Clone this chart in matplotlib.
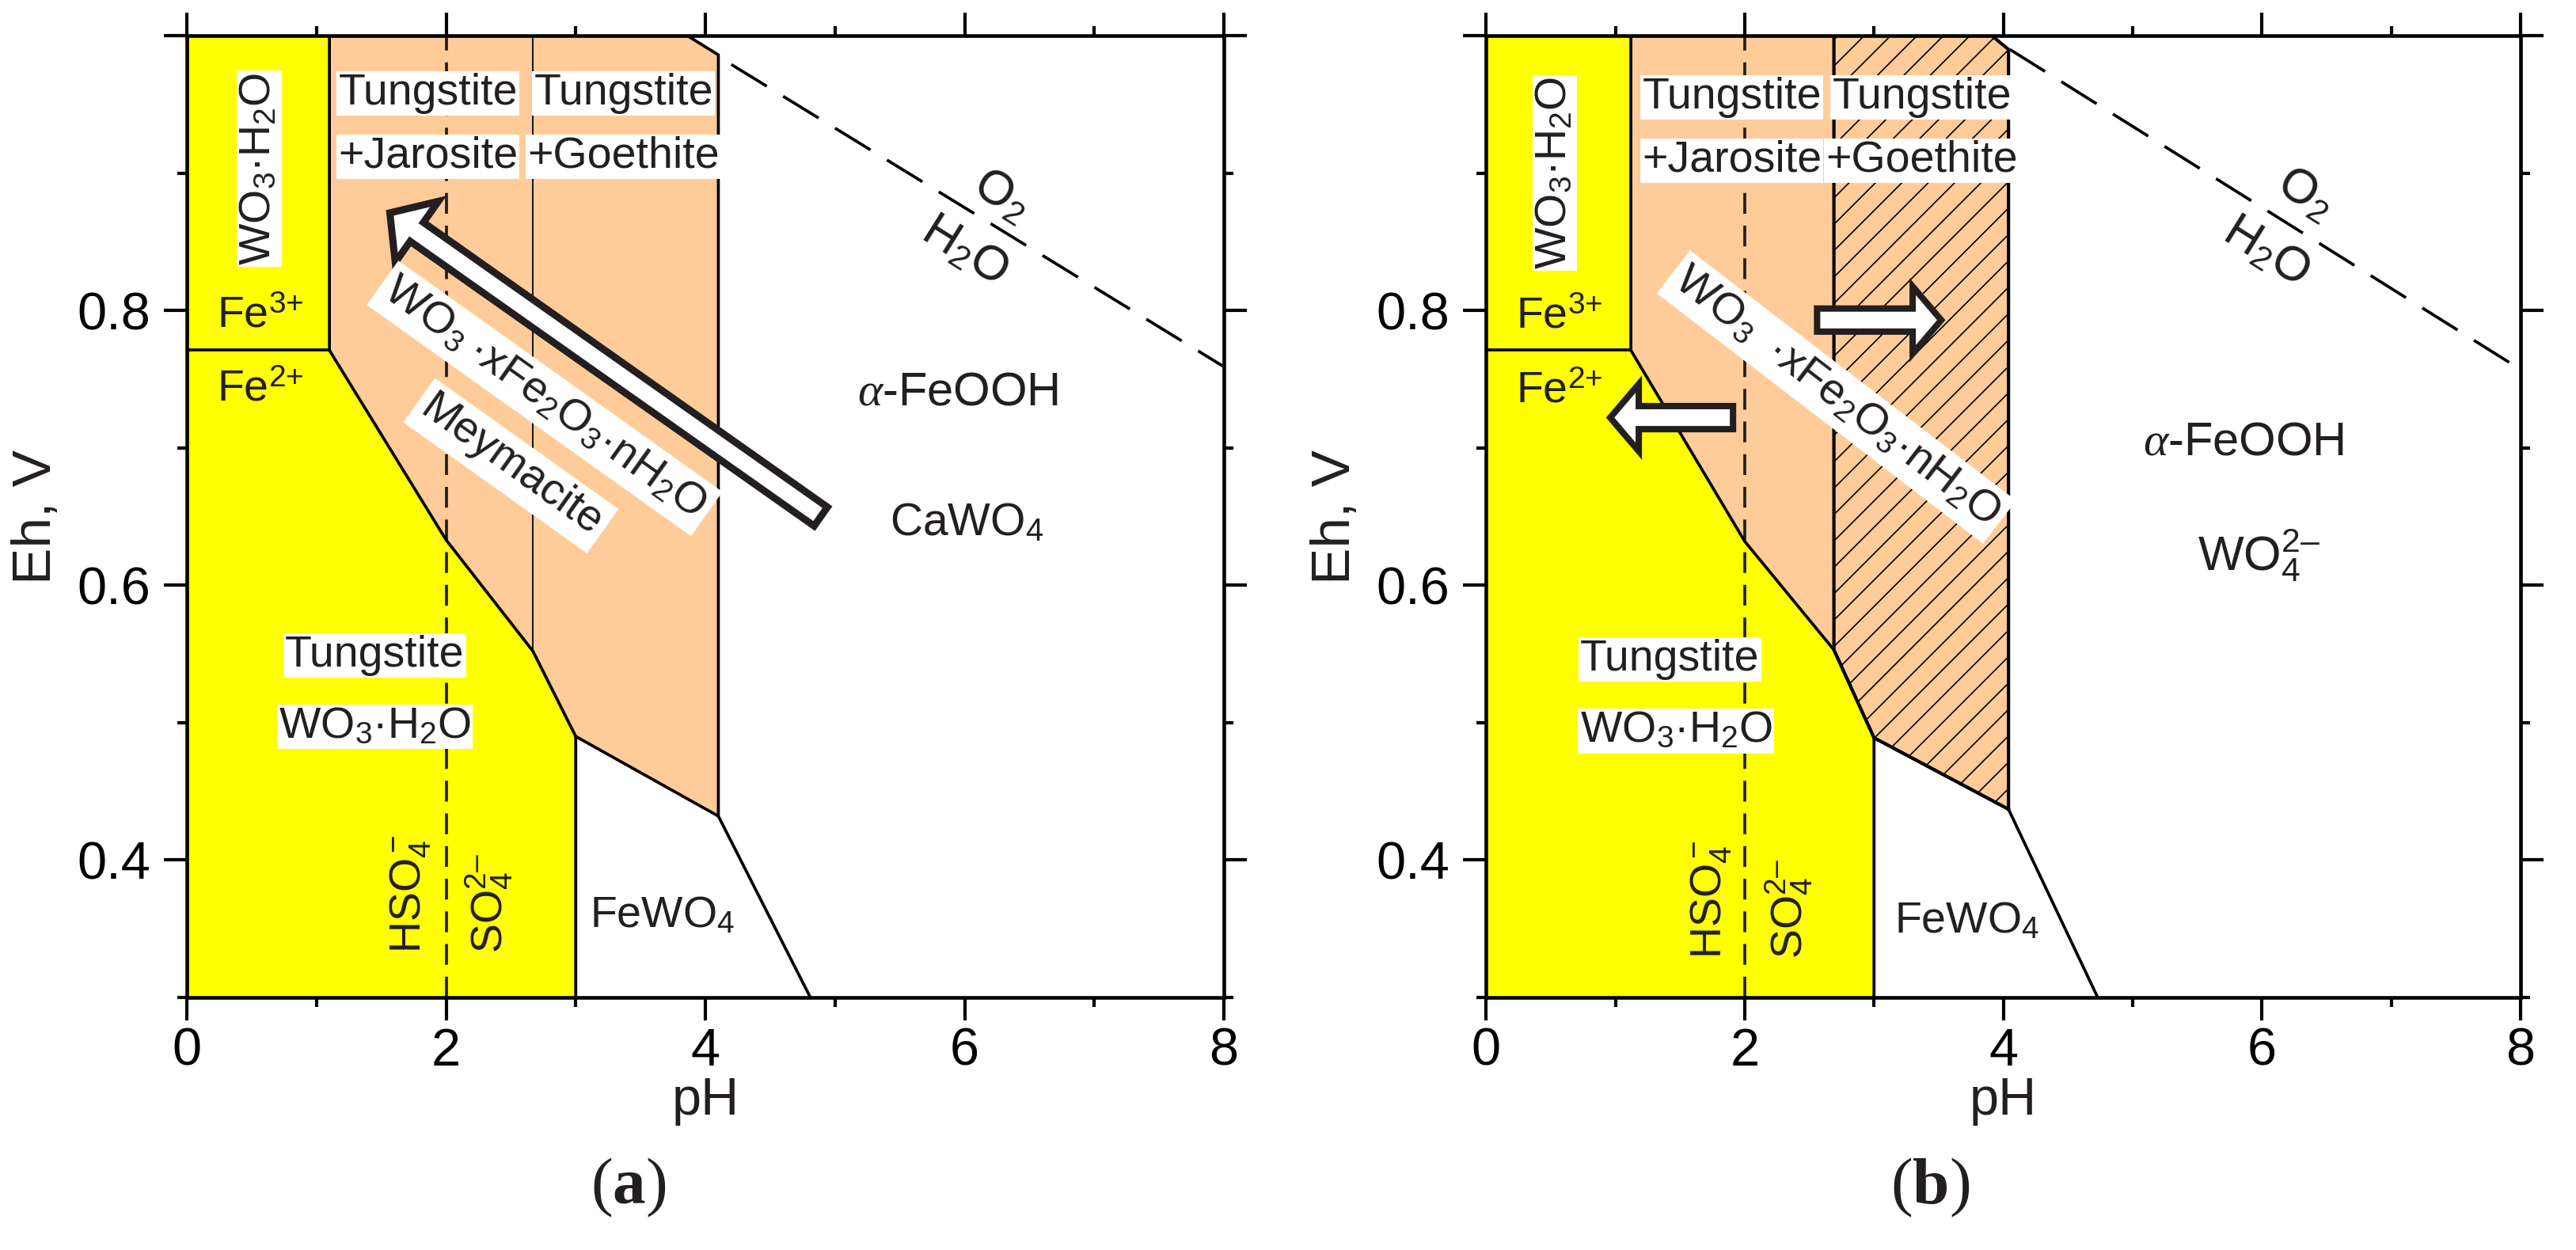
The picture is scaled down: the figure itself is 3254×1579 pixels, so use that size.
import matplotlib
matplotlib.use("Agg")
import matplotlib.pyplot as plt
from matplotlib.patches import Polygon, FancyArrowPatch

plt.rcParams['font.family'] = ['Liberation Sans', 'DejaVu Sans']
plt.rcParams['mathtext.fontset'] = 'custom'
plt.rcParams['mathtext.rm'] = 'Liberation Sans'
plt.rcParams['mathtext.it'] = 'Liberation Serif:italic'
plt.rcParams['mathtext.bf'] = 'Liberation Serif:bold'
plt.rcParams['hatch.linewidth'] = 1.2
plt.rcParams['hatch.color'] = 'black'

# axis ticks
x_major = [0, 2, 4, 6, 8]
x_minor = [1, 3, 5, 7]
y_major = [0.4, 0.6, 0.8, 1.0]
y_labels = ['0.4', '0.6', '0.8', '']
y_minor = [0.3, 0.5, 0.7, 0.9]

# panel (a) boundaries (pH, Eh)
yellow_a_ph = [0, 0, 1.1, 1.1, 2.0, 2.67, 3.0, 3.0]
yellow_a_eh = [0.3, 1.0, 1.0, 0.771, 0.633, 0.552, 0.49, 0.3]
orange_a_ph = [1.1, 3.86, 4.1, 4.1, 3.0, 2.67, 2.0, 1.1]
orange_a_eh = [1.0, 1.0, 0.986, 0.432, 0.49, 0.552, 0.633, 0.771]
fewo4_a_ph = [3.0, 4.1, 4.81]
fewo4_a_eh = [0.49, 0.432, 0.3]
inner_a_ph = [2.67, 2.67]
inner_a_eh = [1.0, 0.552]
water_a_ph = [4.2, 8.0]
water_a_eh = [0.979, 0.759]

# panel (b) boundaries
yellow_b_ph = [0, 0, 1.12, 1.12, 2.0, 2.69, 3.0, 3.0]
yellow_b_eh = [0.3, 1.0, 1.0, 0.771, 0.632, 0.553, 0.489, 0.3]
orange_b_ph = [1.12, 3.91, 4.04, 4.04, 3.0, 2.69, 2.0, 1.12]
orange_b_eh = [1.0, 1.0, 0.99, 0.437, 0.489, 0.553, 0.632, 0.771]
hatch_b_ph = [2.69, 3.91, 4.04, 4.04, 3.0, 2.69]
hatch_b_eh = [1.0, 1.0, 0.99, 0.437, 0.489, 0.553]
fewo4_b_ph = [3.0, 4.04, 4.73]
fewo4_b_eh = [0.489, 0.437, 0.3]
water_b_ph = [4.05, 8.0]
water_b_eh = [0.99, 0.757]

fe_line_eh = 0.771
sulfate_ph = 2.0

# arrows (tail pH, tail Eh, head pH, head Eh)
arrow_a = [(4.89, 0.650, 1.566, 0.871)]
arrows_b = [(2.56, 0.793, 3.52, 0.793), (1.91, 0.722, 0.96, 0.722)]

YEL = '#ffff00'
ORA = '#ffcc99'
TXT = '#231f20'
LW = 2.7

fig = plt.figure(figsize=(32.55, 15.79), dpi=100)
ax_a = fig.add_axes([0.0725, 0.202, 0.4025, 0.7695])
ax_b = fig.add_axes([0.5767, 0.202, 0.4015, 0.7695])


def setup_axes(ax):
    ax.set_xlim(0, 8)
    ax.set_ylim(0.3, 1.0)
    ax.set_xticks(x_major)
    ax.set_xticks(x_minor, minor=True)
    ax.set_yticks(y_major)
    ax.set_yticklabels(y_labels)
    ax.set_yticks(y_minor, minor=True)
    for s in ax.spines.values():
        s.set_linewidth(3.3)
    ax.tick_params(which='both', direction='out', top=True, right=True, width=3.0, colors='black')
    ax.tick_params(which='major', length=21)
    ax.tick_params(which='minor', length=8.5)
    ax.tick_params(axis='y', labelsize=48, pad=12)
    ax.tick_params(axis='x', labelsize=48, pad=6)
    ax.set_xlabel('pH', fontsize=48, labelpad=0, color=TXT)
    ax.set_ylabel('Eh, V', fontsize=50, labelpad=14, color=TXT)


def label(ax, x, y, s, size=40, box=True, pad=1.5, **kw):
    bb = dict(facecolor='white', edgecolor='none', pad=pad) if box else None
    kw.setdefault('ha', 'center')
    kw.setdefault('va', 'center')
    ax.text(x, y, s, fontsize=size, color=TXT, bbox=bb, zorder=6, **kw)


def block_arrow(ax, x0, y0, x1, y1, tw, hw, hl, lw):
    style = 'simple,tail_width=%g,head_width=%g,head_length=%g' % (tw, hw, hl)
    arr = FancyArrowPatch((x0, y0), (x1, y1), arrowstyle=style, mutation_scale=1,
                          shrinkA=0, shrinkB=0, facecolor='white', edgecolor=TXT,
                          linewidth=lw, joinstyle='miter', zorder=5)
    ax.add_patch(arr)


def common_lines(ax, yph, yeh, fph, feh, wph, weh):
    ax.plot([0, yph[2]], [fe_line_eh, fe_line_eh], color='black', lw=LW, zorder=3)
    ax.plot(yph[2:], yeh[2:], color='black', lw=LW, zorder=3, solid_joinstyle='miter')
    ax.plot(fph, feh, color='black', lw=LW, zorder=3)
    ax.plot([sulfate_ph, sulfate_ph], [0.3, 1.0], color=TXT, lw=2.7, ls=(0, (7, 4)), zorder=2)
    ax.plot(wph, weh, color='black', lw=2.7, ls=(0, (14, 6.5)), zorder=2)


# ---------- panel (a)
ax = ax_a
ax.add_patch(Polygon(list(zip(yellow_a_ph, yellow_a_eh)), closed=True, facecolor=YEL, edgecolor='none', zorder=1))
ax.add_patch(Polygon(list(zip(orange_a_ph, orange_a_eh)), closed=True, facecolor=ORA, edgecolor='none', zorder=1))
common_lines(ax, yellow_a_ph, yellow_a_eh, fewo4_a_ph, fewo4_a_eh, water_a_ph, water_a_eh)
ax.plot(orange_a_ph[1:4], orange_a_eh[1:4], color='black', lw=LW, zorder=3)
ax.plot(inner_a_ph, inner_a_eh, color='black', lw=1.3, zorder=3)
for x0, y0, x1, y1 in arrow_a:
    block_arrow(ax, x0, y0, x1, y1, 21, 68, 30, 6.5)

label(ax, 0.56, 0.903, 'WO$_3$·H$_2$O', rotation=90)
label(ax, 0.23, 0.796, r'Fe$^{\text{3+}}$', box=False, ha='left')
label(ax, 0.23, 0.742, r'Fe$^{\text{2+}}$', box=False, ha='left')
label(ax, 1.86, 0.958, 'Tungstite')
label(ax, 1.86, 0.912, '+Jarosite')
label(ax, 3.37, 0.958, 'Tungstite')
label(ax, 3.37, 0.912, '+Goethite')
label(ax, 2.76, 0.736, 'WO$_3$\u2009·xFe$_2$O$_3$·nH$_2$O', rotation=-35.5, pad=6, rotation_mode='anchor')
label(ax, 2.50, 0.687, 'Meymacite', rotation=-35.5, pad=6, rotation_mode='anchor')
label(ax, 5.95, 0.740, r'$\alpha$-FeOOH', size=43, box=False)
label(ax, 5.42, 0.645, 'CaWO$_4$', size=41, box=False, ha='left')
label(ax, 6.28, 0.883, 'O$_2$', size=44, box=False, rotation=-32)
label(ax, 6.00, 0.843, 'H$_2$O', size=44, box=False, rotation=-32)
label(ax, 1.45, 0.549, 'Tungstite')
label(ax, 1.45, 0.497, 'WO$_3$·H$_2$O')
label(ax, 1.72, 0.332, 'HSO$_4^-$', box=False, rotation=90, va='bottom')
label(ax, 2.33, 0.332, r'SO$_4^{\text{2–}}$', box=False, rotation=90, va='bottom')
label(ax, 3.11, 0.359, 'FeWO$_4$', box=False, ha='left')
setup_axes(ax)

# ---------- panel (b)
ax = ax_b
ax.add_patch(Polygon(list(zip(yellow_b_ph, yellow_b_eh)), closed=True, facecolor=YEL, edgecolor='none', zorder=1))
ax.add_patch(Polygon(list(zip(orange_b_ph, orange_b_eh)), closed=True, facecolor=ORA, edgecolor='none', zorder=1))
ax.add_patch(Polygon(list(zip(hatch_b_ph, hatch_b_eh)), closed=True, facecolor='none', edgecolor='black',
                     linewidth=0, hatch='/', zorder=1.5))
common_lines(ax, yellow_b_ph, yellow_b_eh, fewo4_b_ph, fewo4_b_eh, water_b_ph, water_b_eh)
ax.plot(hatch_b_ph[:4], hatch_b_eh[:4], color='black', lw=3.0, zorder=3)
ax.plot(hatch_b_ph[3:] + [hatch_b_ph[0]], hatch_b_eh[3:] + [hatch_b_eh[0]], color='black', lw=3.0, zorder=3)
for x0, y0, x1, y1 in arrows_b:
    block_arrow(ax, x0, y0, x1, y1, 21, 61, 26, 5.8)

label(ax, 0.53, 0.900, 'WO$_3$·H$_2$O', rotation=90)
label(ax, 0.23, 0.795, r'Fe$^{\text{3+}}$', box=False, ha='left')
label(ax, 0.23, 0.741, r'Fe$^{\text{2+}}$', box=False, ha='left')
label(ax, 1.90, 0.955, 'Tungstite')
label(ax, 1.90, 0.909, '+Jarosite')
label(ax, 3.37, 0.955, 'Tungstite')
label(ax, 3.37, 0.909, '+Goethite')
label(ax, 2.71, 0.737, 'WO$_3$\u2002·xFe$_2$O$_3$·nH$_2$O', rotation=-37.5, pad=6, rotation_mode='anchor')
label(ax, 5.86, 0.704, r'$\alpha$-FeOOH', size=43, box=False)
label(ax, 5.50, 0.622, r'WO$_4^{\text{2–}}$', size=44, box=False, ha='left')
label(ax, 6.33, 0.884, 'O$_2$', size=44, box=False, rotation=-32)
label(ax, 6.03, 0.842, 'H$_2$O', size=44, box=False, rotation=-32)
label(ax, 1.42, 0.546, 'Tungstite')
label(ax, 1.47, 0.494, 'WO$_3$·H$_2$O')
label(ax, 1.74, 0.328, 'HSO$_4^-$', box=False, rotation=90, va='bottom')
label(ax, 2.34, 0.328, r'SO$_4^{\text{2–}}$', box=False, rotation=90, va='bottom')
label(ax, 3.16, 0.355, 'FeWO$_4$', box=False, ha='left')
setup_axes(ax)

fig.text(0.244, 0.050, r'($\mathbf{a}$)', fontsize=60, family='Liberation Serif', ha='center', va='center', color=TXT)
fig.text(0.749, 0.050, r'($\mathbf{b}$)', fontsize=60, family='Liberation Serif', ha='center', va='center', color=TXT)

fig.savefig('out.png', dpi=100)
